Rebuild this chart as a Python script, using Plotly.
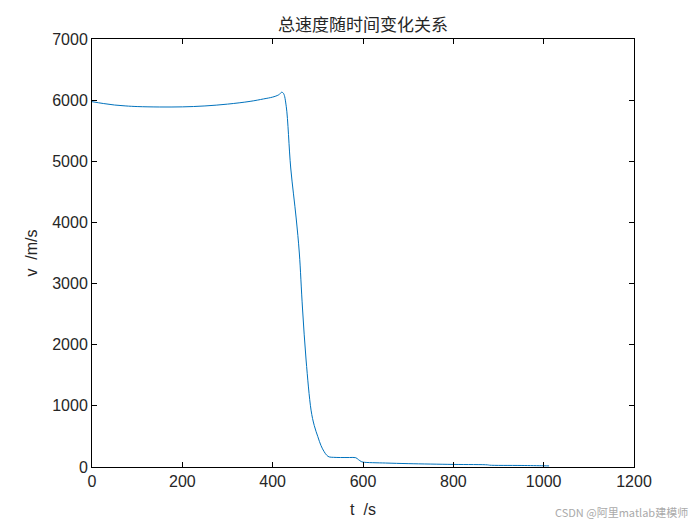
import plotly.graph_objects as go

t = [0, 25, 50, 75, 100, 150, 200, 250, 300, 350, 380, 400, 410, 415, 420, 424,
     430, 440, 452, 459, 466, 474, 485, 492, 500, 507, 514, 520, 525, 535, 550,
     570, 584, 590, 596, 600, 650, 700, 800, 876, 880, 950, 1000, 1012]
v = [5975, 5945, 5920, 5905, 5895, 5888, 5890, 5905, 5935, 5980, 6020, 6050,
     6075, 6095, 6130, 6110, 5900, 4890, 4073, 3500, 2600, 1750, 930, 680, 496,
     350, 250, 190, 165, 158, 155, 155, 152, 120, 90, 80, 65, 55, 42, 35, 30,
     25, 20, 18]

x_ticks = [0, 200, 400, 600, 800, 1000, 1200]
y_ticks = [0, 1000, 2000, 3000, 4000, 5000, 6000, 7000]

fig = go.Figure()
fig.add_trace(go.Scatter(x=t, y=v, mode="lines", line=dict(color="#0072BD", width=1),
                         line_shape="spline", showlegend=False))

axis_common = dict(showline=True, linecolor="black", linewidth=1, mirror="ticks",
                   ticks="inside", ticklen=5, tickcolor="black", showgrid=False,
                   zeroline=False, tickfont=dict(family="Liberation Sans, Arial", size=16, color="#262626"))

fig.update_xaxes(range=[0, 1200], tickvals=x_ticks, **axis_common,
                 title=dict(text="t  /s", font=dict(family="Liberation Sans, Arial", size=16, color="#262626"), standoff=14))
fig.update_yaxes(range=[0, 7000], tickvals=y_ticks, **axis_common,
                 title=dict(text="v  /m/s", font=dict(family="Liberation Sans, Arial", size=16, color="#262626"), standoff=10))

fig.update_layout(
    width=700, height=525,
    margin=dict(l=84, r=74, t=31, b=66),
    paper_bgcolor="white", plot_bgcolor="white",
    title=dict(text="总速度随时间变化关系", x=0.507, xanchor="center", y=0.968, yanchor="middle",
               font=dict(family="Noto Sans CJK SC", size=17, color="#262626")),
    annotations=[dict(text="CSDN @阿里matlab建模师", xref="paper", yref="paper",
                      x=1.103, y=-0.105, xanchor="right", yanchor="middle", showarrow=False,
                      font=dict(family="Noto Sans CJK SC", size=11, color="#aaaaaa"))]
)

fig.write_html("out.html")
